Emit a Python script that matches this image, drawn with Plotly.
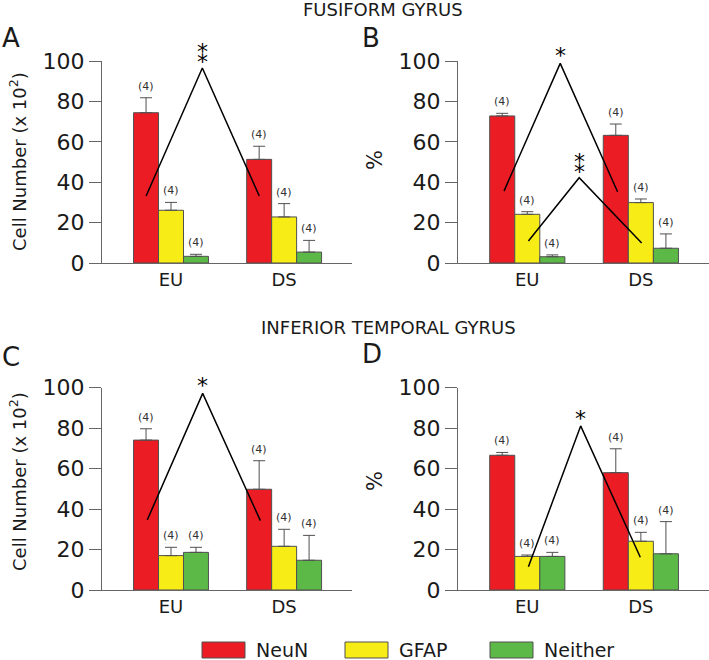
import plotly.graph_objects as go

# ---------------- data ----------------
groups = ["EU", "DS"]
series = ["NeuN", "GFAP", "Neither"]

A_mean = {"NeuN": [74.4, 51.3], "GFAP": [26.1, 22.8], "Neither": [3.3, 5.4]}
A_err = {"NeuN": [7.4, 6.5], "GFAP": [3.9, 6.6], "Neither": [1.0, 5.8]}
B_mean = {"NeuN": [72.8, 63.2], "GFAP": [24.1, 29.9], "Neither": [3.1, 7.3]}
B_err = {"NeuN": [1.3, 5.6], "GFAP": [1.3, 1.8], "Neither": [0.9, 7.1]}
C_mean = {"NeuN": [74.1, 49.8], "GFAP": [17.0, 21.6], "Neither": [18.6, 14.7]}
C_err = {"NeuN": [5.6, 14.1], "GFAP": [4.1, 8.4], "Neither": [2.5, 12.3]}
D_mean = {"NeuN": [66.6, 58.0], "GFAP": [16.6, 24.1], "Neither": [16.6, 17.9]}
D_err = {"NeuN": [1.4, 11.8], "GFAP": [0.7, 4.4], "Neither": [2.0, 15.9]}
n_per_bar = 4

# significance brackets: (x points, y points, label)
A_sig = [([-0.22, 0.277, 0.78], [33.2, 96.5, 33.2], "**")]
B_sig = [([-0.205, 0.29, 0.795], [35.6, 98.8, 35.3], "*"),
         ([0.01, 0.457, 1.007], [10.9, 42.2, 9.9], "**")]
C_sig = [([-0.21, 0.28, 0.79], [34.6, 97.2, 34.3], "*")]
D_sig = [([0.01, 0.47, 0.995], [11.5, 81.1, 16.2], "*")]

y_ticks = [0, 20, 40, 60, 80, 100]

# ---------------- style ----------------
W, H = 709, 660
FONT = "DejaVu Sans"
colors = {"NeuN": "#EC1C24", "GFAP": "#F7EC15", "Neither": "#5DB947"}
AX = "#666666"
TXT = "#1a1a1a"


def X(px):
    return px / W


def Y(px):
    return 1 - px / H


BARGAP = 0.338
bar_w = (1 - BARGAP) / len(series)

panels = [
    ("", A_mean, A_err, A_sig, [X(102), X(352)], [Y(263), Y(61)]),
    ("2", B_mean, B_err, B_sig, [X(458), 1.0], [Y(263), Y(61)]),
    ("3", C_mean, C_err, C_sig, [X(102), X(352)], [Y(590), Y(387.7)]),
    ("4", D_mean, D_err, D_sig, [X(458), 1.0], [Y(590), Y(387.7)]),
]

fig = go.Figure()
annotations = []
layout_axes = {}
xpos = list(range(len(groups)))
# single asterisk, or two asterisks stacked vertically (U+2051)
STARS = {"*": "*", "**": "\u2051"}

for suf, mean, err, sig, xdom, ydom in panels:
    xa, ya = "x" + suf, "y" + suf
    for i, s in enumerate(series):
        fig.add_trace(go.Bar(
            x=xpos, y=mean[s], name=s, xaxis=xa, yaxis=ya, showlegend=False,
            marker=dict(color=colors[s], line=dict(color="#505050", width=1)),
            error_y=dict(type="data", symmetric=False, array=err[s],
                         arrayminus=[0] * len(groups), color="#505050",
                         thickness=1, width=6),
        ))
        for g in xpos:
            annotations.append(dict(
                x=g + (i - 1) * bar_w, y=mean[s][g] + err[s][g], xref=xa, yref=ya,
                text="(%d)" % n_per_bar, showarrow=False, xanchor="center",
                yanchor="bottom", yshift=3,
                font=dict(family=FONT, size=11, color="#333333")))
    for sx, sy, lab in sig:
        fig.add_trace(go.Scatter(
            x=sx, y=sy, mode="lines", xaxis=xa, yaxis=ya, showlegend=False,
            line=dict(color="black", width=1.5), hoverinfo="skip"))
        annotations.append(dict(
            x=sx[1], y=sy[1], xref=xa, yref=ya, text=STARS[lab], showarrow=False,
            xanchor="center", yanchor="bottom", yshift=-7 if lab == "*" else -2,
            font=dict(family=FONT, size=22, color="#000000")))
    key = "xaxis" + suf
    layout_axes[key] = dict(
        domain=xdom, range=[-0.61, 1.6], anchor=ya, tickvals=xpos, ticktext=groups,
        showline=True, linecolor=AX, linewidth=1, ticks="", showgrid=False,
        zeroline=False, tickfont=dict(family=FONT, size=18, color=TXT),
        fixedrange=True)
    layout_axes["yaxis" + suf] = dict(
        domain=ydom, range=[0, 100], anchor=xa, tickvals=y_ticks,
        showline=True, linecolor=AX, linewidth=1, ticks="outside", ticklen=12,
        tickcolor=AX, showgrid=False, zeroline=False,
        tickfont=dict(family=FONT, size=22, color=TXT), fixedrange=True)

# titles and panel letters
txt = dict(showarrow=False, xref="paper", yref="paper", xanchor="center", yanchor="middle")
txl = dict(showarrow=False, xref="paper", yref="paper", xanchor="left", yanchor="middle")
annotations += [
    dict(text="FUSIFORM GYRUS", x=X(383), y=Y(9), font=dict(family=FONT, size=18, color=TXT), **txt),
    dict(text="INFERIOR TEMPORAL GYRUS", x=X(388), y=Y(327), font=dict(family=FONT, size=18, color=TXT), **txt),
    dict(text="A", x=X(0), y=Y(38), font=dict(family=FONT, size=26, color=TXT), **txl),
    dict(text="B", x=X(360), y=Y(38), font=dict(family=FONT, size=26, color=TXT), **txl),
    dict(text="C", x=X(0), y=Y(357), font=dict(family=FONT, size=26, color=TXT), **txl),
    dict(text="D", x=X(360), y=Y(354), font=dict(family=FONT, size=26, color=TXT), **txl),
    dict(text="Cell Number (x 10<sup>2</sup>)", x=X(18), y=Y(162), textangle=-90,
         font=dict(family=FONT, size=18, color=TXT), **txt),
    dict(text="Cell Number (x 10<sup>2</sup>)", x=X(18), y=Y(482), textangle=-90,
         font=dict(family=FONT, size=18, color=TXT), **txt),
    dict(text="%", x=X(375), y=Y(160), textangle=-90, font=dict(family=FONT, size=21, color=TXT), **txt),
    dict(text="%", x=X(375), y=Y(481), textangle=-90, font=dict(family=FONT, size=21, color=TXT), **txt),
]

# legend (manual swatches)
shapes = []
leg_x = [202, 345, 490]
for s, lx in zip(series, leg_x):
    shapes.append(dict(type="rect", xref="paper", yref="paper",
                       x0=X(lx), x1=X(lx + 43), y0=Y(658), y1=Y(642),
                       fillcolor=colors[s], line=dict(color="#505050", width=1)))
    annotations.append(dict(text=s, x=X(lx + 52), y=Y(650),
                            font=dict(family=FONT, size=19, color=TXT), **txl))

fig.update_layout(
    width=W, height=H, margin=dict(l=0, r=0, t=0, b=0, autoexpand=False),
    paper_bgcolor="white", plot_bgcolor="white",
    barmode="group", bargap=BARGAP, bargroupgap=0,
    annotations=annotations, shapes=shapes, showlegend=False,
    **layout_axes,
)

fig.write_html("out.html", config={"displayModeBar": False},
               post_script="document.body.style.margin='0';")
